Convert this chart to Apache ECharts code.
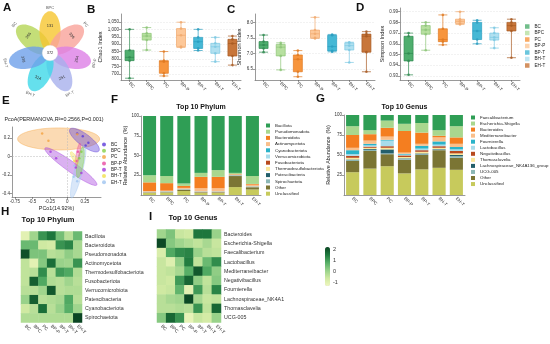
<!DOCTYPE html>
<html><head><meta charset="utf-8">
<script src="https://cdn.jsdelivr.net/npm/echarts@6/dist/echarts.min.js"></script>
<style>html,body{margin:0;padding:0;background:#fff}#c{width:550px;height:344px}</style>
</head><body><div id="c"></div><script>
const FONT = 'Liberation Sans, Arial, sans-serif';
const groups = ['BC','BPC','PC','BP-P','BP-T','BH-T','EH-T'];

// A: flower (unique OTUs per group, core)
const petalCounts = [366,131,336,254,251,314,338];
const coreCount = 372;
const petalColors = ['#b5d656','#f6c530','#f9a39a','#dd7fe6','#a8b0ec','#3fd8e8','#6ea0ea'];

// B, C, D: alpha diversity (5 samples per group)
const chao1 = [[672,790,812,860,1000],[861,928,955,973,1012],[687,705,783,790,851],[878,884,960,1005,1048],[858,872,917,946,1000],[783,839,883,906,946],[760,821,905,933,955]];
const shannon = [[7.04,7.16,7.27,7.38,7.59],[6.47,6.92,7.2,7.29,7.34],[6.25,6.41,6.81,6.95,7.09],[7.48,7.5,7.63,7.75,8.16],[7.05,7.08,7.22,7.58,7.61],[6.71,7.11,7.25,7.34,7.36],[6.41,7.04,7.55,7.62,7.7]];
const simpson = [[0.931,0.944,0.951,0.967,0.970],[0.954,0.969,0.973,0.977,0.980],[0.959,0.962,0.964,0.974,0.987],[0.978,0.979,0.981,0.983,0.990],[0.960,0.964,0.972,0.980,0.982],[0.956,0.9635,0.966,0.970,0.975],[0.947,0.972,0.977,0.980,0.983]];
const chao1Ticks = [700,750,800,850,900,950,1000,1050];
const shannonTicks = [6.5,7.0,7.5,8.0];
const simpsonTicks = [0.93,0.94,0.95,0.96,0.97,0.98,0.99];
const boxFill = ['#4fae6e','#b7e0a0','#f7953d','#fdc899','#45b8d5','#b0e0f0','#c8763a'];
const boxDark = ['#2f8a50','#8cc477','#e07a22','#f0a96d','#2a9ec0','#7cc8e2','#a85a22'];

// E: PCoA
const pcoaColors = ['#5b3bd9','#86cf45','#f4a340','#e84aa0','#a23bdc','#f1e04a','#9fc4f0'];
const pcoaPoints = [
  [[0.14,0.25],[0.22,0.22],[0.30,0.15],[0.26,0.12]],
  [[0.17,-0.02],[0.20,0.05]],
  [[-0.36,0.25],[-0.27,0.17],[0.14,0.24]],
  [[0.15,0.05],[0.13,-0.05]],
  [[-0.24,0.05],[-0.16,-0.02],[0.12,-0.12],[0.20,-0.18]],
  [[0.10,-0.05]],
  [[0.09,-0.22],[0.14,-0.27],[0.10,-0.10]]
];
// ellipse: group index, major-axis end1 (x,y), end2 (x,y), minor/major ratio
const pcoaEllipses = [
  [2,-0.71,0.19,0.46,0.19,0.27],
  [4,-0.32,0.09,0.42,-0.31,0.16],
  [0,0.036,0.296,0.45,0.06,0.33],
  [6,0.25,0.12,0.06,-0.45,0.15],
  [1,0.22,0.10,0.15,-0.23,0.2],
  [3,0.18,0.145,0.12,-0.11,0.15],
  [5,0.05,0.05,0.15,-0.08,0.3]
];
const pcoaXTicks = [-0.75,-0.5,-0.25,0,0.25];
const pcoaYTicks = [-0.4,-0.2,0,0.2];

// F: Top 10 phylum (%), listed top of legend first
const taxaColors = ['#2f9e55','#a9d78e','#f47e20','#f9bf8b','#2ab3c9','#a8dceb','#b84a1e','#fbe79a','#235f6b','#8cb7b5','#7b7534','#c7ca5c'];
const phylumNames = ['Bacillota','Pseudomonadota','Bacteroidota','Actinomycetota','Cyanobacteriota','Verrucomicrobiota','Fusobacteriota','Thermodesulfobacteriota','Patescibacteria','Spirochaetota','Other','Unclassified'];
const phylumValues = [
  [75,77,85.5,72,68.5,72,76],
  [9,9,3,5,8.5,1.5,10],
  [11,9.5,2.5,14.5,14.5,0.5,1],
  [0.8,0.8,1.2,4,4,0.5,2],
  [0.3,0.3,0.3,0.3,0.3,0.3,0.3],
  [0.3,0.3,0.3,0.3,0.3,0.3,0.3],
  [0.2,0.2,0.2,0.2,0.2,0.2,0.2],
  [0.2,0.2,0.2,0.2,0.2,0.2,0.2],
  [0.1,0.1,0.1,0.1,0.1,0.3,0.1],
  [0.1,0.1,0.1,0.1,0.1,0.2,0.1],
  [0.5,0.5,1.6,0.8,0.8,14,2.8],
  [2.5,3,5,2.5,2.5,10,7]
];
// G: Top 10 genus (%)
const genusNames = ['Faecalibacterium','Escherichia-Shigella','Bacteroides','Mediterraneibacter','Fournierella','Lactobacillus','Negativibacillus','Thomasclavelia','Lachnospiraceae_NK4A136_group','UCG-005','Other','Unclassified'];
const genusValues = [
  [14,19,7,11,10,19,14],
  [11,5,9,9,12,7,14],
  [16,8,11,27,14,2,8],
  [3,4,4,1.5,2.5,5,4],
  [5,2,1,1,3.5,4,3],
  [2,1.5,7,1,2,2,2],
  [2.5,1.5,2,2,2,2,3],
  [2,1.5,2,1.5,2,1.5,2],
  [0.5,1,5,0.5,1,0.5,1.5],
  [1.5,1.5,1,1.5,1,1,2],
  [14,22,15,17,18,22,15],
  [28.5,33,36,27,32,34,31.5]
];
const pctTicks = [25,50,75,100];

// H, I: heatmaps (z-scores)
const hRows = ['Bacillota','Bacteroidota','Pseudomonadota','Actinomycetota','Thermodesulfobacteriota','Fusobacteriota','Verrucomicrobiota','Patescibacteria','Cyanobacteriota','Spirochaetota'];
const hValues = [
  [-1,0,1.2,1.6,0.5,-0.3,0.6],
  [0.6,0.6,-0.6,-0.7,1.2,1.4,-0.1],
  [2.1,0.4,0.4,-0.3,-0.2,0.2,-0.1],
  [-0.4,-1.0,0.3,1.7,0.1,0.0,1.2],
  [-0.4,-0.3,1.3,-0.3,1.1,0.9,-0.2],
  [-0.4,1.9,0.9,-0.2,-0.3,0.0,-0.3],
  [-0.3,-0.3,0.0,2.0,-0.3,-0.2,-0.2],
  [0.1,1.9,-0.3,-0.2,-0.1,0.9,-0.3],
  [-0.6,-0.3,1.7,-0.3,0.1,0.8,0.0],
  [-0.2,-0.2,-0.2,-0.2,-0.2,-0.2,2.3]
];
const iRows = ['Bacteroides','Escherichia-Shigella','Faecalibacterium','Lactobacillus','Mediterraneibacter','Negativibacillus','Fournierella','Lachnospiraceae_NK4A136_group','Thomasclavelia','UCG-005'];
const iValues = [
  [0.0,0.4,-0.5,-0.6,1.6,1.6,0.1],
  [2.2,0.3,0.0,-0.2,-0.4,-0.1,-0.5],
  [-0.8,0.9,1.3,1.4,0.1,-0.3,-0.4],
  [-0.5,-0.9,0.2,1.5,-0.4,0.6,1.3],
  [-0.5,-0.4,-0.1,0.8,2.0,0.9,0.2],
  [-0.5,-0.6,1.1,1.8,0.2,-0.4,0.3],
  [-0.6,-0.5,0.7,-1.0,1.1,-0.3,1.4],
  [-0.3,-0.1,0.0,2.2,-0.1,-0.5,-0.4],
  [-0.3,-0.3,-0.2,-0.3,1.2,-0.4,1.8],
  [0.3,1.8,1.2,-1.1,-0.5,-0.7,0.1]
];
const colorbarTicks = [-1,0,1,2];
const heatMin = -1.3, heatMax = 2.25;
const heatColors = ['#f0f7bf','#cfe9a2','#97d189','#55ae66','#1f7a3e','#0b4523'];

// ---------- helpers ----------
function boxStats(vals){
  const s = vals.slice().sort((a,b)=>a-b), n = s.length;
  const q = p => { const pos=(n-1)*p, lo=Math.floor(pos), hi=Math.ceil(pos); return s[lo]+(s[hi]-s[lo])*(pos-lo); };
  return [s[0], q(0.25), q(0.5), q(0.75), s[n-1]];
}
const axisLineStyle = {lineStyle:{color:'#555', width:0.6}};
const tickStyle = {show:true, length:2, lineStyle:{color:'#555', width:0.6}};
const lbl = (extra) => Object.assign({fontSize:4.5, color:'#333', fontFamily:FONT, margin:2}, extra||{});

function catX(grid){
  return {type:'category', gridIndex:grid, data:groups, axisLine:axisLineStyle, axisTick:Object.assign({alignWithLabel:true}, tickStyle),
    axisLabel:lbl({rotate:-45, margin:3, interval:0})};
}
function valY(grid, min, max, ticks, fmt, name, gap){
  return {type:'value', gridIndex:grid, min, max, name, nameLocation:'middle', nameGap:gap,
    nameTextStyle:{fontSize:5.5, color:'#222', fontFamily:FONT},
    axisLine:{show:true, lineStyle:{color:'#555', width:0.6}},
    axisTick:Object.assign({customValues:ticks}, tickStyle),
    axisLabel:lbl({customValues:ticks, formatter:fmt}),
    splitLine:{show:true, lineStyle:{color:'#e4e4e4', width:0.5, type:'dashed'}}};
}

const series = [];
// A flower
series.push({
  type:'custom', xAxisIndex:0, yAxisIndex:0, silent:true,
  data: petalCounts.map((c,i)=>[i,c]),
  renderItem(params, api){
    const i = api.value(0), cnt = api.value(1);
    const th = (141.43 - i*360/7)*Math.PI/180;
    const c = api.coord([0,0]); const R = api.size([1,0])[0];
    const ux = Math.cos(th), uy = -Math.sin(th), vx = -uy, vy = ux;
    const dist = 0.47*R, a = 0.44*R, b = 0.23*R;
    const cx = c[0]+dist*ux, cy = c[1]+dist*uy;
    const pts = [];
    for(let k=0;k<60;k++){const t=k/60*2*Math.PI; pts.push([cx+a*Math.cos(t)*ux+b*Math.sin(t)*vx, cy+a*Math.cos(t)*uy+b*Math.sin(t)*vy]);}
    let rot = th - Math.PI/2; while(rot<-Math.PI/2) rot+=Math.PI; while(rot>Math.PI/2) rot-=Math.PI;
    const d2 = 0.6*R, d3 = 0.99*R;
    return {type:'group', children:[
      {type:'polygon', shape:{points:pts}, style:{fill:petalColors[i], opacity:0.8}},
      {type:'text', x:c[0]+d2*ux, y:c[1]+d2*uy, rotation:rot, style:{text:String(cnt), fontSize:4, fill:'#333', fontFamily:FONT, align:'center', verticalAlign:'middle', textAlign:'center', textVerticalAlign:'middle'}},
      {type:'text', x:c[0]+d3*ux, y:c[1]+d3*uy, rotation:rot, style:{text:groups[i], fontSize:4, fill:'#555', fontFamily:FONT, align:'center', verticalAlign:'middle', textAlign:'center', textVerticalAlign:'middle'}}
    ]};
  }
});
series.push({
  type:'custom', xAxisIndex:0, yAxisIndex:0, silent:true, z:5,
  data:[[0,0,coreCount]],
  renderItem(params, api){
    const c = api.coord([api.value(0), api.value(1)]); const R = api.size([1,0])[0];
    return {type:'group', children:[
      {type:'circle', shape:{cx:c[0], cy:c[1], r:0.17*R}, style:{fill:'#fff', stroke:'#ddd', lineWidth:0.3}},
      {type:'text', x:c[0], y:c[1], style:{text:String(api.value(2)), fontSize:4, fill:'#333', fontFamily:FONT, align:'center', verticalAlign:'middle', textAlign:'center', textVerticalAlign:'middle'}}
    ]};
  }
});
// B, C, D boxplots + points
[[chao1,1],[shannon,2],[simpson,3]].forEach(([arr, gi])=>{
  series.push({type:'boxplot', xAxisIndex:gi, yAxisIndex:gi, boxWidth:[9,9], silent:true,
    data: arr.map((v,i)=>({value:boxStats(v), itemStyle:{color:boxFill[i], borderColor:boxDark[i], borderWidth:0.7}}))});
  series.push({type:'scatter', xAxisIndex:gi, yAxisIndex:gi, symbolSize:2.6, silent:true, z:4,
    data: arr.flatMap((v,i)=>v.map(y=>({value:[groups[i], y], itemStyle:{color:boxDark[i]}})))});
});
// E ellipses + points
series.push({
  type:'custom', xAxisIndex:4, yAxisIndex:4, silent:true, z:2,
  data: pcoaEllipses,
  renderItem(params, api){
    const g = api.value(0);
    const p1 = api.coord([api.value(1), api.value(2)]), p2 = api.coord([api.value(3), api.value(4)]);
    const cx=(p1[0]+p2[0])/2, cy=(p1[1]+p2[1])/2, dx=(p2[0]-p1[0])/2, dy=(p2[1]-p1[1])/2;
    const a=Math.hypot(dx,dy), ux=dx/a, uy=dy/a, b=a*api.value(5);
    const pts=[];
    for(let k=0;k<60;k++){const t=k/60*2*Math.PI; pts.push([cx+a*Math.cos(t)*ux-b*Math.sin(t)*uy, cy+a*Math.cos(t)*uy+b*Math.sin(t)*ux]);}
    const col = echarts.color.modifyAlpha(pcoaColors[g], 0.4);
    return {type:'polygon', shape:{points:pts}, style:{fill:col, stroke:pcoaColors[g], lineWidth:0.4}};
  }
});
groups.forEach((g,i)=>{
  const s = {type:'scatter', name:g, xAxisIndex:4, yAxisIndex:4, symbolSize:2.5, z:4, silent:true,
    itemStyle:{color:pcoaColors[i]}, data:pcoaPoints[i]};
  if(i===0){ s.markLine = {silent:true, symbol:'none', label:{show:false}, lineStyle:{type:'dashed', color:'#bbb', width:0.5}, data:[{xAxis:0},{yAxis:0}]}; }
  series.push(s);
});
// F, G stacked bars (bottom = last name)
for(let k=phylumNames.length-1;k>=0;k--){
  series.push({type:'bar', name:phylumNames[k], stack:'f', xAxisIndex:5, yAxisIndex:5, barCategoryGap:'24%', silent:true,
    itemStyle:{color:taxaColors[k]}, data:phylumValues[k]});
}
for(let k=genusNames.length-1;k>=0;k--){
  series.push({type:'bar', name:genusNames[k], stack:'g', xAxisIndex:6, yAxisIndex:6, barCategoryGap:'24%', silent:true,
    itemStyle:{color:taxaColors[k]}, data:genusValues[k]});
}
// H, I heatmaps
const hIdx = series.length;
series.push({type:'heatmap', xAxisIndex:7, yAxisIndex:7, silent:true,
  data: hValues.flatMap((r,ri)=>r.map((v,ci)=>[ci,ri,v]))});
series.push({type:'heatmap', xAxisIndex:8, yAxisIndex:8, silent:true,
  data: iValues.flatMap((r,ri)=>r.map((v,ci)=>[ci,ri,v]))});
series.push({type:'scatter', xAxisIndex:9, yAxisIndex:9, data:[], silent:true});

function legendItems(names, colors){ return names.map((n,i)=>({name:n, itemStyle:{color:colors[i]}})); }
const legTxt = {fontSize:4.6, color:'#222', fontFamily:FONT, lineHeight:5};

function heatX(grid){
  return {type:'category', gridIndex:grid, data:groups, axisLine:{show:false}, axisTick:{show:false},
    axisLabel:lbl({rotate:-45, margin:3, interval:0, fontSize:4.6})};
}
function heatY(grid, rows){
  return {type:'category', gridIndex:grid, data:rows, inverse:true, position:'right', axisLine:{show:false}, axisTick:{show:false},
    axisLabel:lbl({fontSize:5.3, margin:3, interval:0, width:62, overflow:'truncate', ellipsis:''})};
}

const T = (text, left, top, size, extra) => Object.assign({text, left, top, padding:0,
  textStyle:{fontSize:size, fontWeight:'bold', color:'#111', fontFamily:FONT}}, extra||{});

const option = {
  animation:false,
  textStyle:{fontFamily:FONT},
  title:[
    T('A',3,2,11.5), T('B',87,4,11.5), T('C',227,4,11.5), T('D',356,2,11.5),
    T('E',2,95,11.5), T('F',111,94,11.5), T('G',316,93,11.5), T('H',1,206,11.5), T('I',149,211,11.5),
    T('Top 10 Phylum',201,104,7,{textAlign:'center'}),
    T('Top 10 Genus',404.5,104,7,{textAlign:'center'}),
    T('Top 10 Phylum',48,216,7.5,{textAlign:'center'}),
    T('Top 10 Genus',193,214,7.5,{textAlign:'center'}),
    {text:'PcoA(PERMANOVA,R²=0.2566,P=0.001)', left:54, top:117, textAlign:'center', padding:0,
      textStyle:{fontSize:5.4, fontWeight:'normal', color:'#222', fontFamily:FONT}}
  ],
  legend:[
    {orient:'vertical', left:525, top:24, padding:0, itemWidth:4.5, itemHeight:4.5, itemGap:1.5, icon:'rect', selectedMode:false,
      textStyle:legTxt, data:legendItems(groups, boxFill)},
    {orient:'vertical', left:102, top:142, padding:0, itemWidth:4, itemHeight:4, itemGap:1.3, icon:'circle', selectedMode:false,
      textStyle:legTxt, data:legendItems(groups, pcoaColors)},
    {orient:'vertical', left:266, top:123, padding:0, itemWidth:4, itemHeight:4, itemGap:1.2, icon:'rect', selectedMode:false,
      textStyle:Object.assign({}, legTxt, {fontSize:4.4}), data:legendItems(phylumNames, taxaColors)},
    {orient:'vertical', left:471, top:115, padding:0, itemWidth:4, itemHeight:4, itemGap:1.05, icon:'rect', selectedMode:false,
      textStyle:Object.assign({}, legTxt, {fontSize:4.4}), data:legendItems(genusNames, taxaColors)}
  ],
  grid:[
    {left:4, top:9, width:92, height:88},
    {left:121, top:14, width:120, height:66},
    {left:255, top:14, width:120, height:66},
    {left:400, top:8, width:120, height:72},
    {left:12, top:127, width:89, height:70},
    {left:141, top:116, width:120, height:79},
    {left:344, top:115, width:121, height:80},
    {left:21, top:231.5, width:61, height:91},
    {left:157, top:229.5, width:64, height:93},
    {left:325, top:247, width:5, height:39}
  ].map(g=>Object.assign({outerBoundsMode:'none', containLabel:false}, g)),
  xAxis:[
    {type:'value', gridIndex:0, min:-1, max:1, show:false},
    catX(1), catX(2), catX(3),
    {type:'value', gridIndex:4, min:-0.79, max:0.48, name:'PCo1(14.92%)', nameLocation:'middle', nameGap:9,
      nameTextStyle:{fontSize:5.4, color:'#222', fontFamily:FONT},
      axisLine:{show:true, onZero:false, lineStyle:{color:'#555', width:0.6}},
      axisTick:Object.assign({customValues:pcoaXTicks}, tickStyle),
      axisLabel:lbl({customValues:pcoaXTicks}), splitLine:{show:false}},
    Object.assign(catX(5), {axisTick:{show:false}}),
    Object.assign(catX(6), {axisTick:{show:false}}),
    heatX(7), heatX(8),
    {type:'value', gridIndex:9, min:0, max:1, show:false}
  ],
  yAxis:[
    {type:'value', gridIndex:0, min:-1, max:1, show:false},
    valY(1, 660, 1103, chao1Ticks, v=>v.toLocaleString('en-US'), 'Chao1 Index', 16),
    valY(2, 6.145, 8.267, shannonTicks, v=>v.toFixed(1), 'Shannon Index', 12),
    valY(3, 0.92617, 0.99346, simpsonTicks, v=>v.toFixed(2), 'Simpson Index', 14),
    {type:'value', gridIndex:4, min:-0.44, max:0.32, name:'PCo2(10.78%)', nameLocation:'middle', nameGap:7,
      nameTextStyle:{fontSize:5.4, color:'#222', fontFamily:FONT},
      axisLine:{show:true, onZero:false, lineStyle:{color:'#555', width:0.6}},
      axisTick:Object.assign({customValues:pcoaYTicks}, tickStyle),
      axisLabel:lbl({customValues:pcoaYTicks}), splitLine:{show:false}},
    {type:'value', gridIndex:5, min:0, max:100, name:'Relative Abundance  (%)', nameLocation:'middle', nameGap:13,
      nameTextStyle:{fontSize:5.4, color:'#222', fontFamily:FONT},
      axisLine:{show:true, lineStyle:{color:'#555', width:0.6}},
      axisTick:Object.assign({customValues:pctTicks}, tickStyle),
      axisLabel:lbl({customValues:pctTicks}), splitLine:{show:false}},
    {type:'value', gridIndex:6, min:0, max:100, name:'Relative Abundance  (%)', nameLocation:'middle', nameGap:13,
      nameTextStyle:{fontSize:5.4, color:'#222', fontFamily:FONT},
      axisLine:{show:true, lineStyle:{color:'#555', width:0.6}},
      axisTick:Object.assign({customValues:pctTicks}, tickStyle),
      axisLabel:lbl({customValues:pctTicks}), splitLine:{show:false}},
    heatY(7, hRows), heatY(8, iRows),
    {type:'value', gridIndex:9, min:heatMin, max:heatMax, position:'right',
      axisLine:{show:false}, axisTick:{show:false}, splitLine:{show:false},
      axisLabel:lbl({customValues:colorbarTicks, fontSize:5.5, margin:3})}
  ],
  visualMap:[{
    type:'continuous', min:heatMin, max:heatMax, seriesIndex:[hIdx, hIdx+1], left:325, top:247,
    itemWidth:5, itemHeight:39, padding:0, calculable:false, hoverLink:false, orient:'vertical',
    inRange:{color:heatColors}, textStyle:{fontSize:1, color:'rgba(0,0,0,0)'}
  }],
  series
};
const chart = echarts.init(document.getElementById('c'), null, {renderer:'canvas'});
chart.setOption(option);
</script></body></html>
